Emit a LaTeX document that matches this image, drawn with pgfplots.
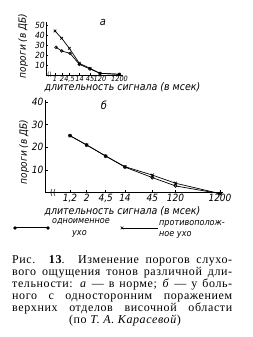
\documentclass[border=0pt]{standalone}
\usepackage{fontspec}
\setmainfont{Liberation Serif}[LetterSpace=5]
\newfontfamily\gost{DejaVu Sans Condensed}
\usepackage{pgfplots}
\pgfplotsset{compat=1.18}
\pgfplotstableread{
x y
55 44
61.7 36.7
69.3 26.7
79.3 11.7
90 6.7
100 1.7
119.3 0.7
}\topcross
\pgfplotstableread{
x y
56 27.7
61.7 24
70 21.7
79.3 10.7
90 6
100 1.7
119.3 0.7
}\topcirc
\pgfplotstableread{
x y
70 25.1
86.7 21.0
105.7 16.1
125 11.4
152.3 7.7
175.5 4.1
220 -0.5
}\botcross
\pgfplotstableread{
x y
70 25.1
86.7 21.0
105.7 16.1
125 11.2
152.3 6.6
175.5 2.9
220 -0.5
}\botcirc
\begin{document}
\begin{tikzpicture}[x=1pt,y=1pt]
\path[use as bounding box, fill=white] (0,0) rectangle (252,337);

% ---------- panel a ----------
\begin{axis}[
  at={(46pt,262pt)}, anchor=south west,
  scale only axis, width=77pt, height=53pt,
  xmin=46, xmax=123, ymin=0, ymax=53,
  axis x line=bottom, axis y line=left,
  axis line style={-, line width=0.7pt},
  xtick={55,62,69.5,79.5,90,100,119.5},
  xticklabels={1,2,{4,5},14,45,120,1200},
  ytick={10,20,30,40,50}, yticklabels={10,20,30,40,50},
  tick align=inside, major tick length=2pt,
  tick style={line width=0.5pt,black},
  yticklabel style={font=\gost\itshape\fontsize{8.5}{8.5}\selectfont, inner sep=1pt},
  xticklabel style={font=\gost\itshape\fontsize{7.3}{7.3}\selectfont, inner sep=1pt},
  clip=false,
]
\addplot[black, line width=0.7pt, mark=x, mark size=1.8pt] table {\topcross};
\addplot[black, line width=0.7pt, mark=o, mark size=1.3pt] table {\topcirc};
\end{axis}

% ---------- panel b ----------
\begin{axis}[
  at={(45pt,144.5pt)}, anchor=south west,
  scale only axis, width=178pt, height=92.8pt,
  xmin=45, xmax=223, ymin=0, ymax=41,
  axis x line=bottom, axis y line=left,
  axis line style={-, line width=0.7pt},
  xtick={70,86.7,105.7,125,152.3,175.5,220},
  xticklabels={{1,2},2,{4,5},14,45,120,1200},
  ytick={10,20,30,40}, yticklabels={10,20,30,40},
  tick align=inside, major tick length=2.5pt,
  tick style={line width=0.5pt,black},
  ticklabel style={font=\gost\itshape\fontsize{10}{10}\selectfont, inner sep=1.5pt},
  clip=false,
]
\addplot[black, line width=0.7pt, mark=x, mark size=2pt] table {\botcross};
\addplot[black, line width=0.7pt, mark=o, mark size=1.5pt] table {\botcirc};
\end{axis}

% ---------- legend samples ----------
\begin{axis}[
  at={(0pt,0pt)}, anchor=south west,
  scale only axis, width=252pt, height=337pt,
  xmin=0, xmax=252, ymin=0, ymax=337,
  hide axis, clip=false,
]
\addplot[black, line width=1pt, mark=o, mark size=1.2pt] coordinates {(15,109) (48,109)};
\addplot[black, line width=0.7pt, mark=x, mark size=1.8pt, mark indices={1}] coordinates {(122,109) (158,109)};
\end{axis}

% axis breaks
\node[font=\gost\fontsize{6}{6}\selectfont, inner sep=0pt] at (49.5,262) {((};
\node[font=\gost\fontsize{8}{8}\selectfont, inner sep=0pt] at (53,144.5) {((};

% texts of the figure
\node[font=\gost\itshape\fontsize{11}{11}\selectfont] at (103,314) {а};
\node[font=\gost\itshape\fontsize{11}{11}\selectfont] at (104,232) {б};
\node[rotate=90, font=\gost\itshape\fontsize{10}{10}\selectfont] at (23,291) {пороги (в ДБ)};
\node[rotate=90, font=\gost\itshape\fontsize{10}{10}\selectfont] at (24,185) {пороги (в ДБ)};
\node[anchor=west, font=\gost\itshape\fontsize{10.5}{10.5}\selectfont] at (41,250) {длительность сигнала (в мсек)};
\node[anchor=west, font=\gost\itshape\fontsize{10.5}{10.5}\selectfont] at (41,126) {длительность сигнала (в мсек)};

% legend texts
\node[anchor=base west, font=\gost\itshape\fontsize{9}{9}\selectfont, inner sep=0pt] at (52,113) {одноименное};
\node[anchor=base west, font=\gost\itshape\fontsize{9}{9}\selectfont, inner sep=0pt] at (72,101) {ухо};
\node[anchor=base west, font=\gost\itshape\fontsize{9}{9}\selectfont, inner sep=0pt] at (159,111) {противополож-};
\node[anchor=base west, font=\gost\itshape\fontsize{9}{9}\selectfont, inner sep=0pt] at (159,100) {ное ухо};

% caption
\begin{scope}[every node/.style={anchor=base west, inner sep=0pt, font=\fontsize{12}{12}\selectfont}]
\node at (12,73) {\makebox[220pt][s]{Рис. {\bfseries 13}. Изменение порогов слухо-}};
\node at (12,61) {\makebox[220pt][s]{вого ощущения тонов различной дли-}};
\node at (12,49) {\makebox[220pt][s]{тельности: \textit{а} — в норме; \textit{б} — у боль-}};
\node at (12,37) {\makebox[220pt][s]{ного с односторонним поражением}};
\node at (12,25) {\makebox[220pt][s]{верхних отделов височной области}};
\end{scope}
\node[anchor=base, inner sep=0pt, font=\fontsize{12}{12}\selectfont] at (125,13) {(по \textit{Т. А. Карасевой})};
\end{tikzpicture}
\end{document}
